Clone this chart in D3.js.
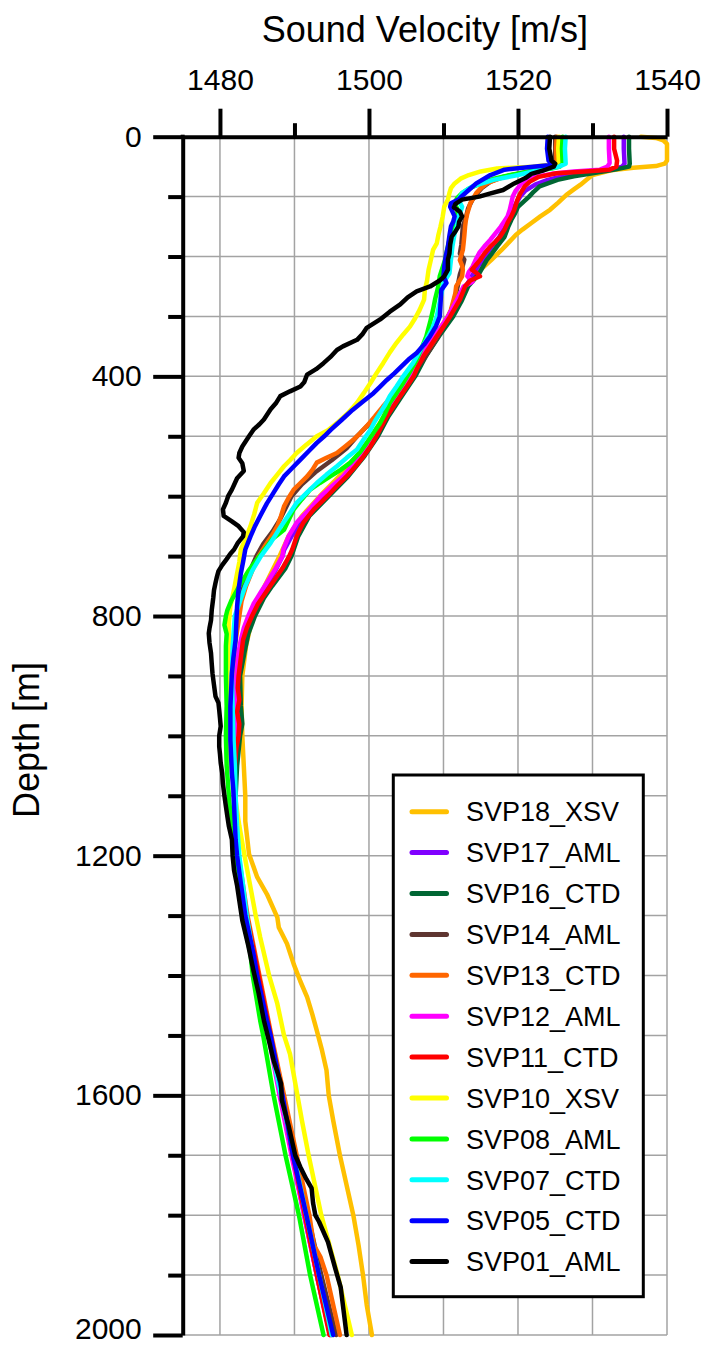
<!DOCTYPE html>
<html><head><meta charset="utf-8">
<script src="https://cdn.jsdelivr.net/npm/d3@7"></script>
<style>html,body{margin:0;padding:0;background:#fff;} svg{display:block;}</style>
</head><body>
<svg id="chart" width="706" height="1347"></svg>
<script>
// ---------- tick values ----------
const xMajorTicks = [1480, 1500, 1520, 1540];
const xMinorTicks = [1490, 1510, 1530];
const xGridValues = [1480, 1490, 1500, 1510, 1520, 1530, 1540];
const yMajorTicks = [0, 400, 800, 1200, 1600, 2000];
const yMinorTicks = [100, 200, 300, 500, 600, 700, 900, 1000, 1100, 1300, 1400, 1500, 1700, 1800, 1900];
const yGridValues = [100,200,300,400,500,600,700,800,900,1000,1100,1200,1300,1400,1500,1600,1700,1800,1900,2000];

// ---------- series: [depth m, sound velocity m/s] ----------
const svp18 = [[0,1536.5],[2,1538.5],[6,1539.5],[12,1540.0],[25,1540.0],[40,1540.0],[45,1539.7],[49,1538.5],[52,1535.5],[56,1532.5],[64,1530.0],[72,1529.2],[80,1528.4],[88,1527.5],[97,1526.5],[110,1525.4],[122,1524.3],[133,1523.0],[144,1521.8],[155,1520.6],[164,1519.7],[176,1518.8],[189,1517.8],[206,1516.4],[222,1515.0],[240,1513.6],[250,1512.8],[275,1511.8],[300,1510.6],[333,1508.8],[367,1507.2],[400,1505.6],[433,1503.8],[467,1502.0],[500,1500.4],[533,1498.4],[567,1496.0],[600,1493.4],[633,1491.0],[667,1489.2],[700,1488.0],[750,1486.0],[800,1484.4],[850,1483.5],[900,1483.0],[950,1482.9],[1000,1483.0],[1050,1483.2],[1100,1483.4],[1142,1483.4],[1197,1483.9],[1236,1485.0],[1264,1486.3],[1303,1487.7],[1320,1487.9],[1347,1489.0],[1381,1489.9],[1410,1490.8],[1436,1491.7],[1465,1492.4],[1492,1493.0],[1525,1493.7],[1558,1494.3],[1600,1494.6],[1642,1495.2],[1700,1496.1],[1750,1497.0],[1800,1497.9],[1850,1498.6],[1900,1499.2],[1950,1499.7],[2000,1500.4]];
const svp17 = [[0,1534.2],[20,1534.2],[45,1534.3],[50,1534.0],[55,1532.5],[60,1529.0],[66,1526.0],[72,1524.0],[80,1522.3],[90,1521.0],[100,1520.3],[110,1519.8],[120,1519.4],[133,1519.0],[150,1518.3],[167,1517.5],[183,1516.5],[200,1515.6],[217,1514.6],[233,1513.8],[250,1513.0],[275,1512.0],[300,1511.0],[333,1509.1],[367,1507.2],[400,1505.8],[433,1504.0],[467,1502.2],[500,1500.8],[533,1499.0],[567,1496.8],[600,1494.0],[633,1491.5],[667,1489.6],[690,1488.6],[700,1488.4],[725,1487.4],[750,1486.2],[775,1485.2],[800,1484.3],[850,1483.1],[900,1482.5],[950,1482.3],[1000,1482.2],[1050,1482.0],[1100,1482.0],[1150,1482.1],[1200,1482.3],[1300,1483.4],[1400,1485.0],[1500,1486.6],[1600,1488.1],[1700,1489.7],[1800,1491.3],[1900,1493.0],[2000,1494.8]];
const svp16 = [[0,1534.9],[20,1534.9],[45,1535.0],[50,1534.9],[55,1533.0],[61,1530.0],[66,1527.5],[72,1525.3],[83,1522.9],[92,1522.1],[100,1521.5],[108,1520.8],[117,1520.0],[128,1519.6],[139,1519.1],[150,1518.7],[167,1518.2],[183,1517.2],[195,1516.5],[206,1515.8],[217,1515.3],[228,1514.8],[240,1514.0],[250,1513.3],[275,1512.4],[300,1511.3],[333,1509.4],[367,1507.6],[400,1506.2],[433,1504.4],[467,1502.6],[500,1501.2],[533,1499.4],[567,1497.2],[600,1494.6],[633,1492.0],[667,1490.5],[700,1489.6],[720,1488.8],[750,1487.0],[770,1485.9],[800,1484.7],[830,1483.8],[860,1483.3],[900,1482.7],[950,1482.8],[980,1483.0],[1000,1482.7],[1050,1482.3],[1100,1482.1],[1150,1482.1],[1200,1482.3],[1300,1483.5],[1400,1485.1],[1500,1486.7],[1600,1488.3],[1700,1490.0],[1800,1491.6],[1900,1493.3],[2000,1495.0]];
const svp14 = [[0,1525.0],[45,1525.0],[50,1524.8],[55,1522.8],[60,1520.8],[67,1518.0],[75,1516.3],[85,1515.2],[95,1514.5],[105,1513.9],[120,1513.3],[135,1513.0],[150,1512.6],[165,1512.5],[180,1512.4],[195,1512.2],[205,1512.8],[215,1512.6],[230,1512.2],[250,1511.9],[275,1511.4],[300,1510.8],[333,1509.3],[367,1507.6],[400,1505.6],[433,1503.5],[467,1501.0],[500,1498.4],[520,1497.0],[540,1495.0],[560,1492.8],[580,1491.0],[600,1489.6],[620,1488.8],[640,1488.0],[660,1487.0],[680,1485.8],[700,1484.9],[725,1484.0],[750,1483.2],[775,1482.6],[800,1482.3],[850,1481.8],[900,1481.6],[950,1481.6],[1000,1481.6],[1050,1481.7],[1100,1481.9],[1150,1482.1],[1200,1482.4],[1300,1483.6],[1400,1485.2],[1500,1486.8],[1600,1488.4],[1700,1490.1],[1800,1491.8],[1900,1493.6],[2000,1495.6]];
const svp13 = [[0,1525.2],[20,1525.1],[45,1525.2],[50,1525.0],[54,1523.5],[58,1522.0],[62,1520.0],[67,1518.2],[72,1517.0],[78,1515.8],[86,1515.0],[94,1514.4],[103,1514.0],[111,1513.6],[120,1513.4],[128,1513.2],[140,1513.0],[150,1512.9],[165,1512.8],[178,1512.7],[189,1512.6],[206,1512.2],[215,1512.5],[222,1512.6],[233,1512.5],[250,1511.7],[261,1511.6],[275,1511.3],[289,1511.0],[300,1510.6],[317,1509.9],[333,1509.1],[350,1508.2],[365,1507.3],[378,1506.4],[395,1505.5],[411,1504.6],[430,1503.3],[450,1501.9],[467,1500.8],[483,1499.7],[495,1498.8],[506,1497.9],[517,1496.8],[528,1495.7],[536,1494.3],[544,1493.0],[556,1492.4],[567,1491.7],[578,1490.8],[589,1489.9],[603,1489.2],[617,1488.6],[633,1488.2],[650,1487.7],[665,1487.0],[678,1486.3],[700,1485.2],[725,1484.3],[750,1483.5],[775,1482.9],[800,1482.6],[850,1482.0],[900,1481.7],[950,1481.6],[1000,1481.6],[1050,1481.8],[1100,1482.0],[1150,1482.2],[1200,1482.5],[1300,1483.7],[1400,1485.3],[1500,1486.9],[1600,1488.6],[1700,1490.3],[1800,1492.0],[1850,1492.6],[1870,1493.5],[1900,1494.3],[1950,1495.2],[2000,1496.1]];
const svp12 = [[0,1532.2],[20,1532.2],[44,1532.3],[50,1532.0],[55,1531.0],[58,1527.5],[62,1524.5],[67,1522.3],[78,1520.5],[90,1519.7],[100,1519.3],[111,1519.1],[122,1518.9],[133,1518.6],[150,1517.7],[161,1517.0],[172,1516.3],[183,1515.5],[194,1514.8],[206,1514.3],[217,1513.9],[226,1513.4],[233,1513.2],[242,1513.9],[250,1512.7],[272,1511.8],[300,1510.6],[333,1508.8],[367,1507.0],[400,1505.7],[433,1503.9],[467,1502.1],[500,1500.6],[533,1498.8],[567,1496.5],[600,1493.5],[622,1492.0],[644,1490.3],[667,1489.2],[689,1488.5],[700,1488.4],[720,1487.5],[740,1486.5],[760,1485.5],[780,1484.5],[800,1483.8],[820,1483.2],[840,1482.8],[860,1482.5],[900,1482.2],[950,1482.1],[1000,1482.0],[1050,1481.9],[1100,1481.9],[1150,1482.0],[1200,1482.2],[1300,1483.4],[1400,1485.0],[1500,1486.5],[1600,1488.0],[1700,1489.6],[1800,1491.3],[1900,1493.0],[2000,1494.8]];
const svp11 = [[0,1532.9],[20,1532.9],[40,1533.3],[50,1533.2],[55,1532.3],[58,1529.0],[61,1525.2],[67,1522.8],[75,1521.6],[83,1520.9],[95,1520.3],[106,1519.9],[122,1519.5],[133,1519.1],[144,1518.6],[155,1518.2],[167,1517.6],[175,1517.0],[183,1516.3],[195,1515.5],[206,1514.9],[215,1514.3],[222,1513.8],[228,1514.5],[233,1514.9],[240,1513.6],[250,1512.9],[272,1512.2],[300,1510.9],[317,1510.0],[333,1509.1],[350,1508.2],[367,1507.3],[383,1506.6],[400,1506.0],[417,1505.1],[433,1504.2],[450,1503.3],[467,1502.4],[483,1501.7],[500,1501.0],[517,1500.2],[533,1499.3],[550,1498.2],[567,1497.0],[583,1495.7],[600,1494.4],[611,1493.5],[622,1492.6],[633,1491.9],[644,1491.2],[656,1490.7],[667,1490.3],[689,1489.7],[700,1489.3],[720,1488.4],[740,1487.3],[760,1486.2],[780,1485.1],[800,1484.3],[820,1483.6],[840,1483.1],[860,1482.9],[880,1482.7],[900,1482.5],[920,1482.4],[940,1482.6],[960,1482.3],[980,1482.6],[1000,1482.5],[1020,1482.2],[1050,1482.0],[1100,1481.9],[1150,1482.0],[1200,1482.3],[1300,1483.6],[1400,1485.2],[1500,1486.8],[1600,1488.3],[1700,1489.8],[1800,1491.4],[1900,1493.0],[2000,1494.7]];
const svp10 = [[0,1525.5],[20,1525.4],[45,1525.5],[50,1522.0],[53,1517.2],[58,1515.0],[64,1513.4],[70,1512.3],[78,1511.5],[86,1511.0],[94,1510.8],[105,1510.6],[117,1510.1],[133,1509.9],[150,1509.6],[165,1509.3],[178,1509.1],[189,1508.6],[206,1508.3],[222,1508.0],[240,1507.8],[256,1507.5],[272,1507.4],[289,1506.8],[303,1506.2],[317,1505.5],[330,1504.6],[344,1503.7],[360,1502.8],[378,1501.9],[395,1501.0],[411,1500.2],[428,1499.3],[444,1498.4],[461,1497.2],[478,1495.7],[490,1494.5],[500,1493.0],[514,1491.6],[528,1490.3],[540,1489.4],[550,1488.6],[564,1487.7],[578,1486.8],[595,1485.9],[611,1485.0],[630,1484.6],[650,1484.1],[670,1483.5],[689,1482.8],[710,1482.6],[729,1482.3],[755,1481.9],[784,1481.4],[810,1481.2],[840,1481.2],[870,1481.1],[900,1481.0],[950,1481.0],[1000,1481.2],[1050,1481.5],[1100,1482.0],[1150,1482.6],[1200,1483.3],[1253,1484.1],[1300,1484.8],[1336,1485.4],[1400,1486.6],[1447,1487.7],[1500,1488.6],[1531,1489.4],[1600,1490.4],[1642,1491.0],[1700,1491.9],[1800,1493.6],[1900,1495.8],[2000,1497.7]];
const svp08 = [[0,1526.0],[20,1525.9],[45,1526.0],[50,1525.6],[53,1524.5],[58,1521.5],[64,1519.0],[70,1516.8],[78,1515.0],[86,1513.5],[94,1512.5],[103,1511.8],[111,1511.5],[122,1511.9],[133,1511.8],[150,1511.3],[161,1511.0],[183,1510.6],[206,1510.2],[233,1509.5],[250,1509.3],[270,1508.9],[289,1508.6],[310,1508.2],[333,1507.7],[352,1507.1],[372,1506.4],[392,1505.5],[411,1504.6],[428,1503.7],[444,1502.8],[461,1502.2],[478,1501.5],[494,1500.6],[511,1499.7],[528,1498.7],[544,1497.5],[556,1496.2],[567,1494.8],[578,1493.4],[589,1492.1],[605,1491.0],[622,1489.9],[640,1489.2],[656,1488.6],[672,1487.0],[689,1486.0],[700,1485.3],[725,1483.8],[750,1482.6],[775,1481.5],[790,1481.0],[800,1480.8],[815,1480.6],[830,1480.9],[850,1480.8],[900,1480.8],[950,1480.9],[1000,1480.8],[1050,1480.9],[1100,1481.2],[1150,1481.5],[1200,1481.9],[1300,1483.0],[1364,1484.1],[1400,1484.4],[1475,1485.4],[1500,1485.8],[1600,1487.2],[1700,1488.8],[1800,1490.6],[1900,1492.1],[2000,1493.9]];
const svp07 = [[0,1526.4],[20,1526.3],[45,1526.4],[50,1525.5],[53,1524.0],[58,1522.0],[64,1520.0],[72,1516.7],[83,1513.9],[94,1512.5],[105,1512.0],[117,1512.5],[125,1512.3],[133,1512.0],[150,1511.8],[161,1511.5],[183,1511.2],[206,1511.0],[228,1510.8],[244,1510.0],[270,1509.6],[300,1509.1],[320,1508.5],[339,1507.7],[358,1506.8],[378,1505.9],[400,1504.6],[417,1503.7],[433,1502.8],[447,1502.2],[461,1501.5],[475,1500.8],[489,1500.2],[505,1499.3],[522,1498.4],[536,1497.0],[550,1495.7],[564,1494.3],[578,1493.0],[595,1491.6],[611,1490.3],[628,1489.4],[650,1488.2],[678,1486.8],[700,1485.5],[725,1484.3],[750,1483.4],[775,1482.7],[800,1482.0],[850,1481.7],[900,1481.6],[950,1481.7],[1000,1481.8],[1050,1482.0],[1100,1482.1],[1150,1482.3],[1200,1482.6],[1300,1483.6],[1400,1484.9],[1500,1486.5],[1600,1488.2],[1700,1489.9],[1800,1491.6],[1900,1493.3],[2000,1495.0]];
const svp05 = [[0,1524.0],[20,1523.9],[40,1524.1],[47,1524.8],[50,1522.0],[55,1518.2],[64,1516.3],[78,1514.4],[89,1513.4],[100,1512.4],[105,1512.0],[111,1511.0],[117,1510.9],[125,1511.2],[133,1511.5],[142,1511.3],[150,1511.0],[165,1510.8],[183,1510.6],[200,1510.3],[217,1510.1],[233,1510.0],[244,1510.4],[256,1509.7],[280,1509.6],[300,1509.5],[316,1509.0],[333,1508.2],[347,1507.4],[361,1506.4],[372,1505.3],[383,1504.4],[395,1503.4],[406,1502.4],[417,1501.5],[428,1500.6],[442,1499.2],[456,1497.8],[472,1496.4],[489,1494.9],[500,1494.0],[511,1493.0],[525,1491.9],[539,1490.8],[553,1489.7],[567,1488.6],[580,1487.9],[594,1487.2],[612,1486.3],[633,1485.4],[650,1484.7],[667,1484.1],[689,1483.4],[710,1483.1],[729,1482.8],[755,1482.5],[784,1482.3],[810,1482.2],[840,1482.1],[870,1481.8],[896,1481.6],[925,1481.5],[951,1481.4],[980,1481.4],[1007,1481.4],[1035,1481.5],[1062,1481.6],[1090,1481.8],[1118,1481.9],[1145,1482.0],[1173,1482.1],[1200,1482.3],[1300,1483.4],[1364,1484.5],[1400,1485.0],[1475,1486.3],[1500,1486.8],[1600,1488.4],[1700,1489.8],[1800,1491.6],[1900,1493.3],[2000,1495.2]];
const svp01 = [[0,1524.3],[20,1524.2],[40,1524.5],[45,1525.0],[50,1524.8],[56,1523.5],[62,1521.8],[69,1521.0],[78,1519.5],[89,1518.0],[95,1516.2],[100,1514.8],[105,1512.5],[112,1511.6],[118,1511.4],[125,1512.2],[133,1512.5],[142,1512.1],[150,1512.0],[160,1511.5],[167,1511.1],[180,1510.9],[195,1510.8],[205,1510.6],[222,1510.6],[233,1510.1],[240,1509.5],[250,1508.2],[258,1506.4],[268,1505.2],[280,1504.2],[292,1502.8],[305,1501.5],[319,1499.7],[330,1499.1],[339,1498.4],[350,1496.5],[356,1495.7],[368,1494.8],[378,1493.9],[388,1492.9],[397,1491.7],[410,1491.3],[417,1490.8],[425,1489.4],[433,1488.1],[445,1487.5],[455,1486.8],[472,1485.9],[480,1485.3],[489,1484.5],[500,1483.9],[517,1483.0],[528,1482.6],[536,1482.5],[545,1483.0],[558,1483.2],[570,1482.3],[589,1481.6],[600,1481.1],[611,1480.8],[622,1480.4],[633,1480.5],[642,1481.6],[650,1482.5],[660,1483.2],[667,1483.1],[678,1482.4],[689,1481.9],[696,1481.4],[705,1480.9],[715,1480.3],[725,1479.8],[734,1479.6],[745,1479.4],[757,1479.2],[770,1479.1],[790,1478.9],[807,1478.8],[820,1478.6],[829,1478.5],[845,1478.6],[862,1478.8],[880,1478.9],[896,1479.0],[915,1479.2],[934,1479.4],[945,1479.8],[957,1479.9],[970,1480.0],[984,1480.1],[1000,1479.9],[1018,1479.9],[1030,1480.0],[1045,1480.1],[1062,1480.3],[1080,1480.4],[1100,1480.6],[1118,1480.8],[1135,1481.0],[1151,1481.2],[1173,1481.6],[1200,1481.7],[1225,1481.9],[1250,1482.3],[1275,1482.6],[1308,1483.0],[1350,1483.8],[1392,1484.5],[1430,1485.2],[1475,1485.9],[1510,1486.6],[1542,1487.2],[1580,1488.2],[1608,1488.3],[1650,1489.2],[1700,1490.1],[1720,1490.8],[1740,1491.6],[1755,1492.3],[1780,1492.5],[1800,1492.8],[1811,1493.3],[1845,1494.5],[1890,1495.5],[1920,1496.2],[1960,1496.6],[2000,1497.0]];

const seriesNames  = ["SVP18_XSV","SVP17_AML","SVP16_CTD","SVP14_AML","SVP13_CTD","SVP12_AML","SVP11_CTD","SVP10_XSV","SVP08_AML","SVP07_CTD","SVP05_CTD","SVP01_AML"];
const seriesColors = ["#FFC000","#8000FF","#006633","#5E3530","#FF6600","#FF00FF","#FF0000","#FFFF00","#00FF00","#00FFFF","#0000FF","#000000"];
const seriesData   = [svp18, svp17, svp16, svp14, svp13, svp12, svp11, svp10, svp08, svp07, svp05, svp01];

// ---------- drawing ----------
const FONT = "'Liberation Sans', Arial, Helvetica, sans-serif";
const svg = d3.select("#chart");
svg.append("rect").attr("width",706).attr("height",1347).attr("fill","#fff");

const x = d3.scaleLinear().domain([1475, 1540]).range([182.7, 667]);
const y = d3.scaleLinear().domain([0, 2000]).range([136.7, 1335]);

// grid
const grid = svg.append("g").attr("stroke","#a3a3a3").attr("stroke-width",1.5);
grid.selectAll("line.v").data(xGridValues).join("line").attr("class","v")
  .attr("x1",d=>x(d)).attr("x2",d=>x(d)).attr("y1",y(0)).attr("y2",y(2000));
grid.selectAll("line.h").data(yGridValues).join("line").attr("class","h")
  .attr("x1",x(1475)).attr("x2",x(1540)).attr("y1",d=>y(d)).attr("y2",d=>y(d));

// profiles
const line = d3.line().x(d=>x(d[1])).y(d=>y(d[0]));
svg.append("g").selectAll("path").data(seriesData).join("path")
  .attr("d", line).attr("fill","none")
  .attr("stroke",(d,i)=>seriesColors[i]).attr("stroke-width",4.5)
  .attr("stroke-linejoin","round").attr("stroke-linecap","round");

// axes
function styleAxis(g){
  g.selectAll(".domain").attr("stroke","#000").attr("stroke-width",4);
  g.selectAll(".tick line").attr("stroke","#000").attr("stroke-width",4);
  g.selectAll("text").attr("font-family",FONT).attr("font-size",30).attr("fill","#000");
}
const xTop = svg.append("g").attr("transform",`translate(0,${y(0)})`)
  .call(d3.axisTop(x).tickValues(xMajorTicks).tickSize(28).tickSizeOuter(0).tickPadding(18.5).tickFormat(d3.format("d")));
styleAxis(xTop);
const xTopMinor = svg.append("g").attr("transform",`translate(0,${y(0)})`)
  .call(d3.axisTop(x).tickValues(xMinorTicks).tickSize(13.5).tickSizeOuter(0).tickFormat(""));
styleAxis(xTopMinor);
xTopMinor.select(".domain").remove();

const yLeft = svg.append("g").attr("transform",`translate(${x(1475)},0)`)
  .call(d3.axisLeft(y).tickValues(yMajorTicks).tickSize(29.5).tickSizeOuter(0).tickPadding(11.5).tickFormat(d3.format("d")));
styleAxis(yLeft);
// keep the bottom label inside the page
yLeft.selectAll(".tick text").filter(d=>d===2000).attr("dy","0.12em");
const yLeftMinor = svg.append("g").attr("transform",`translate(${x(1475)},0)`)
  .call(d3.axisLeft(y).tickValues(yMinorTicks).tickSize(14.5).tickSizeOuter(0).tickFormat(""));
styleAxis(yLeftMinor);
yLeftMinor.select(".domain").remove();
// corner cap
svg.append("rect").attr("x",x(1475)-2).attr("y",y(0)-2).attr("width",4).attr("height",4).attr("fill","#000");

// titles
svg.append("text").attr("x",(x(1475)+x(1540))/2).attr("y",42).attr("text-anchor","middle")
  .attr("font-family",FONT).attr("font-size",36).text("Sound Velocity [m/s]");
svg.append("text").attr("transform",`translate(39,740) rotate(-90)`).attr("text-anchor","middle")
  .attr("font-family",FONT).attr("font-size",36).text("Depth [m]");

// legend
const lg = svg.append("g");
lg.append("rect").attr("x",393.3).attr("y",775).attr("width",250).attr("height",521.7)
  .attr("fill","#fff").attr("stroke","#000").attr("stroke-width",3);
const items = lg.selectAll("g.item").data(seriesNames).join("g").attr("class","item")
  .attr("transform",(d,i)=>`translate(0,${811.7 + i*40.9})`);
items.append("line").attr("x1",412).attr("x2",446.5).attr("y1",0).attr("y2",0)
  .attr("stroke",(d,i)=>seriesColors[i]).attr("stroke-width",5).attr("stroke-linecap","round");
items.append("text").attr("x",466).attr("y",0).attr("dy","0.36em")
  .attr("font-family",FONT).attr("font-size",27).attr("fill","#000").text(d=>d);
</script>
</body></html>
